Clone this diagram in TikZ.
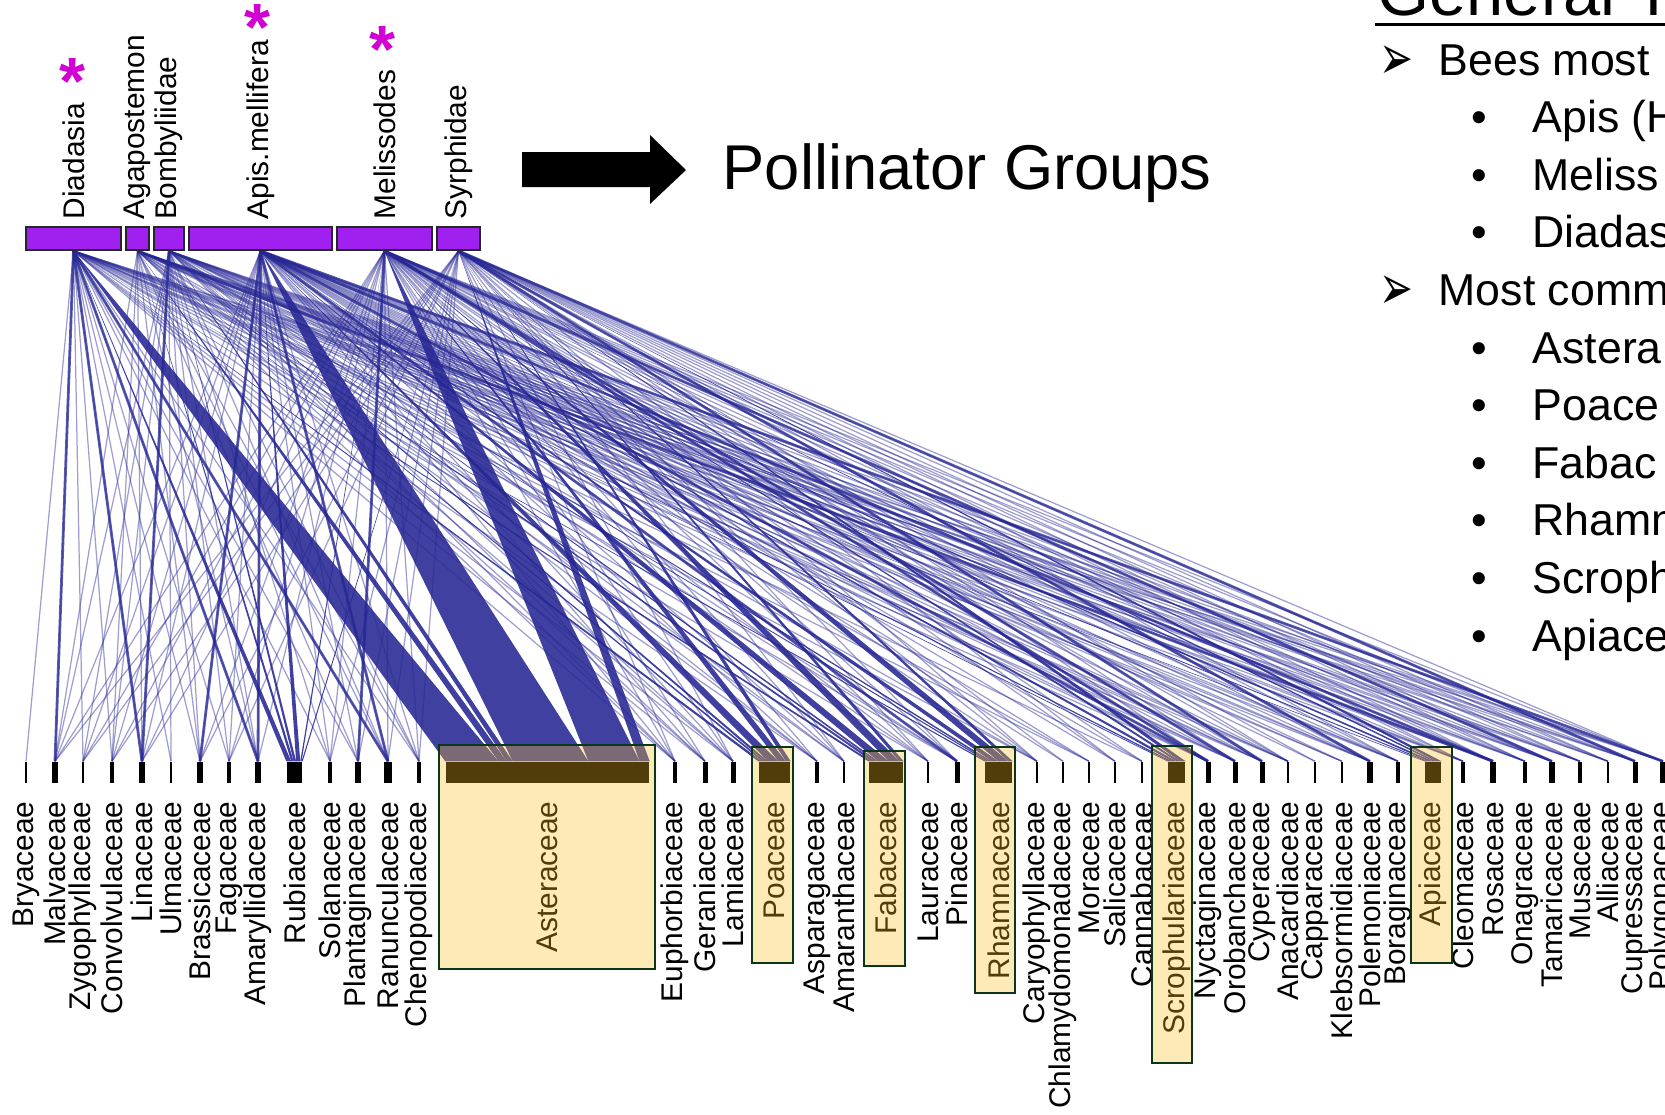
\documentclass[tikz,border=0pt]{standalone}
\usepackage{fontspec}
\setmainfont{Liberation Sans}
\newfontfamily\symfont{DejaVu Sans}
\usetikzlibrary{calc}
\pgfdeclarelayer{links}
\pgfsetlayers{links,main}
\definecolor{linkblue}{RGB}{38,38,148}
\definecolor{polpurple}{RGB}{160,32,240}
\definecolor{hiyellow}{RGB}{250,190,30}
\definecolor{hiborder}{RGB}{10,55,25}
\definecolor{starpink}{RGB}{210,0,210}
\tikzset{
  link/.style={draw=linkblue,line width=.35pt,opacity=.45},
  mlink/.style={draw=linkblue,line width=.8pt,opacity=.75},
  band/.style={fill=linkblue,fill opacity=.88},
  polbox/.style={draw=black!85,line width=.5pt,fill=polpurple,inner sep=0,minimum height=.23cm},
  bar/.style={fill=black,inner sep=0,minimum height=.21cm},
  hilite/.style={fill=hiyellow,fill opacity=.32,draw=hiborder,line width=.7pt},
  lab/.style={font=\fontsize{8.5}{10}\selectfont,inner sep=0,rotate=90},
  star/.style={font=\fontsize{19}{19}\selectfont\bfseries,text=starpink,inner sep=0,anchor=base},
  item/.style={font=\fontsize{12.7}{15}\selectfont,inner sep=0,anchor=base west}
}
\begin{document}
\begin{tikzpicture}[x=0.01cm,y=-0.01cm]
\useasboundingbox (0,0) rectangle (1665,1114);
\clip (0,0) rectangle (1665,1114);
%pollinator groups
\node[polbox,minimum width=.95cm] (dia) at (73.5,238.5) {};
\node[polbox,minimum width=.23cm] (aga) at (137.5,238.5) {};
\node[polbox,minimum width=.30cm] (bom) at (169,238.5) {};
\node[polbox,minimum width=1.43cm] (api) at (260.5,238.5) {};
\node[polbox,minimum width=.95cm] (mel) at (384.5,238.5) {};
\node[polbox,minimum width=.43cm] (syr) at (458.5,238.5) {};
\foreach \nm/\lbl in {dia/Diadasia,aga/Agapostemon,bom/Bombyliidae,api/Apis.mellifera,mel/Melissodes,syr/Syrphidae}
  \node[lab,anchor=west] (\nm-lab) at ($(\nm.north)+(0,-6)$) {\lbl};
\node[star] (stD) at (73,104) {*};
\node[star] (stA) at (258,50) {*};
\node[star] (stM) at (382,72) {*};
%plant families
\foreach \nm/\x/\w/\lbl in {bry/26/.02/Bryaceae,mal/55/.06/Malvaceae,zyg/83/.02/Zygophyllaceae,
  con/112/.04/Convolvulaceae,lin/142/.06/Linaceae,ulm/171/.02/Ulmaceae,bra/200/.06/Brassicaceae,
  fag/229/.04/Fagaceae,ama/258/.06/Amaryllidaceae,rub/294.5/.15/Rubiaceae,sol/330/.04/Solanaceae,
  pla/358/.06/Plantaginaceae,ran/388/.07/Ranunculaceae,che/419/.04/Chenopodiaceae,
  ast/547.5/2.03/Asteraceae,eup/675/.04/Euphorbiaceae,ger/705/.05/Geraniaceae,lam/733/.05/Lamiaceae,
  poa/774.5/.31/Poaceae,asp/817/.04/Asparagaceae,amt/844/.02/Amaranthaceae,fab/886/.34/Fabaceae,
  lau/928/.02/Lauraceae,pin/957/.05/Pinaceae,rha/998.5/.27/Rhamnaceae,car/1037/.02/Caryophyllaceae,
  chl/1063/.02/Chlamydomonadaceae,mor/1089/.02/Moraceae,sal/1115/.02/Salicaceae,can/1142/.02/Cannabaceae,
  scr/1176.5/.17/Scrophulariaceae,nyc/1208/.05/Nyctaginaceae,oro/1235/.05/Orobanchaceae,
  cyp/1262/.05/Cyperaceae,ana/1288/.02/Anacardiaceae,capp/1315/.02/Capparaceae,
  kle/1342/.02/Klebsormidiaceae,pole/1370/.06/Polemoniaceae,bor/1398/.04/Boraginaceae,
  apc/1433/.16/Apiaceae,cle/1463/.04/Cleomaceae,ros/1493/.06/Rosaceae,ona/1525/.04/Onagraceae,
  tam/1552/.06/Tamaricaceae,mus/1580/.04/Musaceae,all/1608/.02/Alliaceae,cup/1635/.05/Cupressaceae,
  polyg/1663/.06/Polygonaceae}{
  \node[bar,minimum width=\w cm] (\nm) at (\x,772.5) {};
  \node[lab,anchor=east] (\nm-lab) at ($(\nm.south)+(0,17)$) {\lbl};
}
%links
\begin{pgfonlayer}{links}
\foreach \p/\lst in {
  dia/{bry,mal,zyg,con,lin,ulm,bra,fag,ama,sol,pla,ran,che,eup,ger,lam,asp,lau,pin,car,mor,can,nyc,oro,cyp,ana,pole,bor,cle,ros,ona,tam,mus,cup,polyg},
  aga/{mal,con,lin,bra,ama,pla,ran,che,eup,ger,lam,asp,amt,pin,car,nyc,oro,cyp,ana,kle,pole,bor,cle,ros,ona,tam,mus,all,cup,polyg},
  bom/{mal,zyg,con,lin,ulm,bra,fag,ama,sol,ran,che,eup,ger,lam,asp,amt,lau,pin,mor,nyc,oro,cyp,ana,kle,pole,bor,cle,ros,ona,tam,mus,all,cup,polyg},
  api/{mal,zyg,con,lin,bra,fag,ama,sol,pla,ran,che,eup,ger,lam,asp,amt,lau,pin,car,chl,mor,sal,can,nyc,oro,cyp,ana,capp,kle,pole,bor,cle,ros,ona,tam,mus,all,cup,polyg},
  mel/{mal,zyg,con,lin,bra,fag,ama,sol,pla,ran,che,eup,ger,lam,asp,amt,lau,pin,car,chl,sal,can,nyc,oro,cyp,ana,capp,pole,bor,cle,ros,ona,tam,mus,all,cup,polyg},
  syr/{mal,zyg,con,lin,bra,fag,sol,pla,ran,che,eup,lam,amt,lau,pin,car,sal,nyc,oro,cyp,ana,pole,bor,cle,ros,ona,tam,mus,all,cup,polyg}}{
  \foreach \q in \lst
    \draw[link] (\p.south) -- (\q.north);
}
\foreach \p/\q in {dia/mal,dia/lin,bom/lin,api/bra,dia/ama,api/ama,mel/pla,api/ran,dia/ran,api/pin,
  api/nyc,mel/oro,syr/cyp,syr/pole,api/ros,mel/tam,syr/cup,api/polyg,aga/ros,mel/nyc}
  \draw[mlink] (\p.south) -- (\q.north);
\foreach \p/\q/\a/\b in {dia/rub/0/.3,aga/rub/.3/.45,bom/rub/.45/.6,api/rub/.6/.85,mel/rub/.85/.93,syr/rub/.93/1,
  dia/ast/0/.26,aga/ast/.26/.3,bom/ast/.3/.33,api/ast/.33/.7,mel/ast/.7/.95,syr/ast/.95/1,
  dia/poa/0/.12,aga/poa/.12/.2,bom/poa/.2/.3,api/poa/.3/.62,mel/poa/.62/.85,syr/poa/.85/1,
  dia/fab/0/.1,aga/fab/.1/.2,bom/fab/.2/.28,api/fab/.28/.58,mel/fab/.58/.88,syr/fab/.88/1,
  dia/rha/0/.08,aga/rha/.08/.16,bom/rha/.16/.26,api/rha/.26/.5,mel/rha/.5/.85,syr/rha/.85/1,
  aga/scr/0/.1,bom/scr/.1/.25,api/scr/.25/.5,mel/scr/.5/.7,syr/scr/.7/1,
  dia/apc/0/.1,bom/apc/.1/.25,api/apc/.25/.5,mel/apc/.5/.7,syr/apc/.7/1}
  \fill[band] (\p.south) -- ($(\q.north west)!\a!(\q.north east)$) -- ($(\q.north west)!\b!(\q.north east)$) -- cycle;
\end{pgfonlayer}
%most common families
\draw[hilite] (439,745) rectangle (655,969);
\draw[hilite] (752,747) rectangle (793,963);
\draw[hilite] (864,751) rectangle (905,966);
\draw[hilite] (975,747) rectangle (1015,993);
\draw[hilite] (1152,746) rectangle (1192,1063);
\draw[hilite] (1411,747) rectangle (1452,963);
%arrow and title
\fill (522,152)--(650,152)--(650,135)--(686,170)--(650,204)--(650,187)--(522,187)--cycle;
\node[inner sep=0,anchor=base west,font=\fontsize{18}{22}\selectfont] (pg) at (722,189) {Pollinator Groups};
%general trends
\node[inner sep=0,anchor=base west,font=\fontsize{19}{23}\selectfont] (gt) at (1377,15) {General Tr};
\draw[line width=.85pt] (1375,24) -- (1665,24);
\foreach \i/\lbl in {0/Bees most,4/Most comm}{
  \node[item,font=\symfont\fontsize{10}{12}\selectfont] (a\i) at (1379,{79+57.6*\i}) {\scalebox{1.15}[1.8]{➢}};
  \node[item] (r\i) at (1438,{75+57.6*\i}) {\lbl};
}
\foreach \i/\lbl in {1/Apis (H,2/Meliss,3/Diadas,5/Astera,6/Poace,7/Fabac,8/Rhamn,9/Scroph,10/Apiace}{
  \node[item] (b\i) at (1471,{75+57.6*\i}) {•};
  \node[item] (r\i) at (1532,{75+57.6*\i}) {\lbl};
}
\end{tikzpicture}
\end{document}
